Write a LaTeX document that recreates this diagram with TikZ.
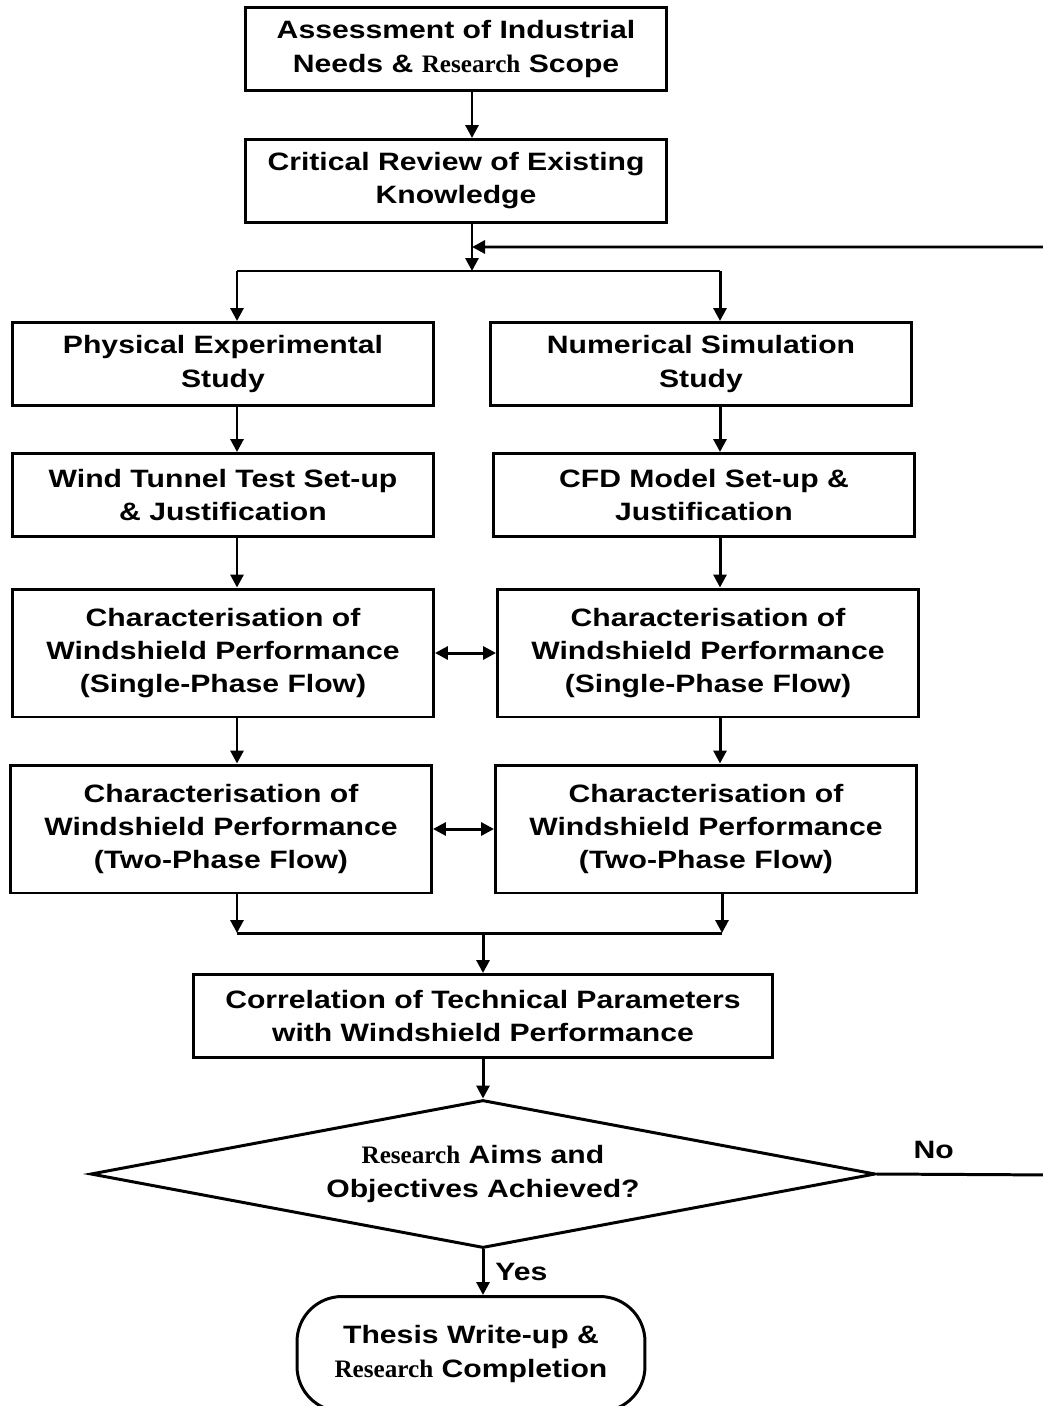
\documentclass[tikz,border=0pt]{standalone}
\usepackage{fontspec}
\setmainfont{Liberation Sans}[FakeStretch=1.2]
\newfontfamily\rsfont{Liberation Serif}
\usetikzlibrary{arrows.meta,shapes.geometric}

\begin{document}
\begin{tikzpicture}[x=0.02cm, y=-0.02cm, line width=1.7pt,
    font={\bfseries\fontsize{14.3pt}{18.8pt}\selectfont},
    box/.style={draw, align=center, inner sep=0pt, minimum width=8.42cm, minimum height=1.66cm},
    tall/.style={minimum height=2.56cm},
    decision/.style={draw, shape=diamond, aspect=5.3, align=center, inner sep=0pt, minimum width=15.7cm, minimum height=2.96cm},
    terminal/.style={draw, rounded corners=0.9cm, align=center, minimum width=6.96cm, minimum height=2.3cm},
    arr/.style={-{Triangle[length=0.26cm,width=0.26cm]}},
    darr/.style={{Triangle[length=0.26cm,width=0.26cm]}-{Triangle[length=0.26cm,width=0.26cm]}}]

    \useasboundingbox (0,0) rectangle (1042,1406);

    \node[box] (assess) at (456,49) {Assessment of Industrial\\Needs \& {\rsfont Research} Scope};
    \node[box] (review) at (456,181) {Critical Review of Existing\\Knowledge};

    \node[box] (phys) at (223,364) {Physical Experimental\\Study};
    \node[box] (num) at (701,364) {Numerical Simulation\\Study};
    \node[box] (wind) at (223,495) {Wind Tunnel Test Set-up\\\& Justification};
    \node[box] (cfd) at (704,495) {CFD Model Set-up \&\\Justification};
    \node[box, tall] (expsp) at (223,653) {Characterisation of\\Windshield Performance\\(Single-Phase Flow)};
    \node[box, tall] (numsp) at (708,653) {Characterisation of\\Windshield Performance\\(Single-Phase Flow)};
    \node[box, tall] (exptp) at (221,829) {Characterisation of\\Windshield Performance\\(Two-Phase Flow)};
    \node[box, tall] (numtp) at (706,829) {Characterisation of\\Windshield Performance\\(Two-Phase Flow)};

    \node[box, minimum width=11.6cm] (corr) at (483,1016) {Correlation of Technical Parameters\\with Windshield Performance};
    \node[decision] (aims) at (483,1174) {{\rsfont Research} Aims and\\Objectives Achieved?};
    \node[terminal] (thesis) at (471,1354) {Thesis Write-up \&\\{\rsfont Research} Completion};

    \coordinate (spine) at (472,247);
    \coordinate (split) at (472,271);
    \coordinate (lcol) at (237,271);
    \coordinate (rcol) at (720,271);
    \coordinate (join) at (483,933);
    \coordinate (ljoin) at (237,933);
    \coordinate (rjoin) at (722,933);
    \coordinate (loop) at (1060,1175);

    \draw[arr] (assess.south -| spine) -- (review.north -| spine);
    \draw[arr] (review.south -| spine) -- (split);
    \draw (lcol) -- (rcol);
    \draw[arr] (lcol) -- (phys.north -| lcol);
    \draw[arr] (rcol) -- (num.north -| rcol);

    \draw[arr] (phys.south -| lcol) -- (wind.north -| lcol);
    \draw[arr] (num.south -| rcol) -- (cfd.north -| rcol);
    \draw[arr] (wind.south -| lcol) -- (expsp.north -| lcol);
    \draw[arr] (cfd.south -| rcol) -- (numsp.north -| rcol);
    \draw[darr] (expsp) -- (numsp);
    \draw[arr] (expsp.south -| lcol) -- (exptp.north -| lcol);
    \draw[arr] (numsp.south -| rcol) -- (numtp.north -| rcol);
    \draw[darr] (exptp) -- (numtp);

    \draw[arr] (exptp.south -| ljoin) -- (ljoin);
    \draw[arr] (numtp.south -| rjoin) -- (rjoin);
    \draw (ljoin) -- (rjoin);
    \draw[arr] (join) -- (corr.north);
    \draw[arr] (corr.south) -- (aims.north);
    \draw[arr] (aims.south) -- node[right, xshift=0.1cm] {Yes} (thesis.north -| aims.south);
    \draw[arr] (aims.east) -- node[pos=0.31, above, yshift=0.16cm] {No} (loop) |- (spine);
\end{tikzpicture}
\end{document}
